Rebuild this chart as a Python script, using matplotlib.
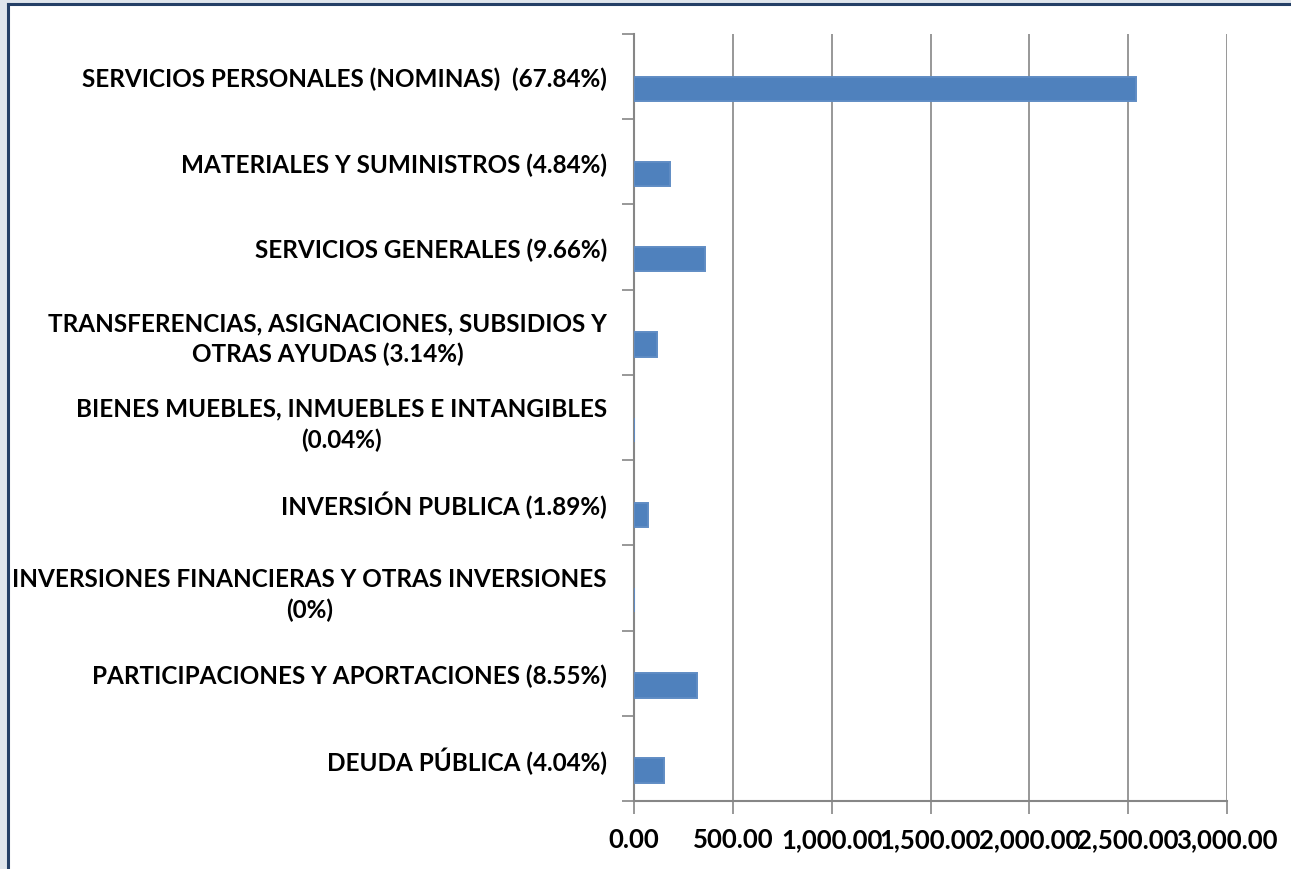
import matplotlib
matplotlib.use("Agg")
import matplotlib.pyplot as plt
from matplotlib.patches import Rectangle
from matplotlib.ticker import FuncFormatter

# capitulos del gasto (de arriba hacia abajo)
categorias = [
    "SERVICIOS PERSONALES (NOMINAS)  (67.84%)",
    "MATERIALES Y SUMINISTROS (4.84%)",
    "SERVICIOS GENERALES (9.66%)",
    "TRANSFERENCIAS, ASIGNACIONES, SUBSIDIOS Y\nOTRAS AYUDAS (3.14%)",
    "BIENES MUEBLES, INMUEBLES E INTANGIBLES\n(0.04%)",
    "INVERSIÓN PUBLICA (1.89%)",
    "INVERSIONES FINANCIERAS Y OTRAS INVERSIONES\n(0%)",
    "PARTICIPACIONES Y APORTACIONES (8.55%)",
    "DEUDA PÚBLICA (4.04%)",
]
montos = [2538.0, 181.0, 361.0, 117.0, 1.5, 70.0, 0.1, 320.0, 151.0]
ticks_x = [0, 500, 1000, 1500, 2000, 2500, 3000]

AZUL = "#4f81bd"
GRIS = "#868686"

plt.rcParams["font.family"] = ["Lato", "DejaVu Sans"]

W, H = 1291, 870
fig = plt.figure(figsize=(W / 100, H / 100), dpi=100, facecolor="#dfe5ec")

# marco blanco tipo captura
fig.patches.append(Rectangle((9 / W, 0), 1, 1 - 6 / H, transform=fig.transFigure,
                             facecolor="white", edgecolor="none", zorder=-10))
fig.lines.append(plt.Line2D([7.5 / W, 7.5 / W], [0, 1 - 4.5 / H], transform=fig.transFigure,
                            color="#243f66", lw=2.2, zorder=-5))
fig.lines.append(plt.Line2D([7.5 / W, 1], [1 - 4.5 / H, 1 - 4.5 / H], transform=fig.transFigure,
                            color="#243f66", lw=2.2, zorder=-5))

ax = fig.add_axes([634 / W, 1 - 802 / H, (1227 - 634) / W, (802 - 35) / H])
ax.set_facecolor("none")

n = len(categorias)
pos = list(range(n))
alto = 1 / 3.5
# barra desplazada hacia abajo (serie vacia arriba, como en Excel)
ax.barh([p + alto / 2 for p in pos], montos, height=alto, color=AZUL,
        edgecolor="#5f8cc4", linewidth=1.4, zorder=3)

ax.set_xlim(0, 3000)
ax.set_ylim(n - 0.5, -0.5)
ax.set_xticks(ticks_x)
ax.xaxis.set_major_formatter(FuncFormatter(lambda v, p: f"{v:,.2f}"))
ax.grid(axis="x", color=GRIS, lw=1.2, zorder=0)

# ticks en los limites de categoria, etiquetas al centro
ax.set_yticks([p - 0.5 for p in range(n + 1)])
ax.set_yticklabels([])
ax.set_yticks(pos, minor=True)
ax.set_yticklabels(categorias, minor=True, fontsize=17.5, fontweight="bold",
                   multialignment="center")
for lab in ax.get_yticklabels(minor=True):
    lab.set_linespacing(1.4)
ax.tick_params(axis="y", which="major", length=9, width=1.2, color=GRIS, direction="out")
ax.tick_params(axis="y", which="minor", length=0, pad=19.5)
ax.tick_params(axis="x", length=9, width=1.2, color=GRIS, direction="out",
               labelsize=18.5, pad=10)
for lab in ax.get_xticklabels():
    lab.set_fontweight("bold")

for s in ["top", "right"]:
    ax.spines[s].set_visible(False)
for s in ["left", "bottom"]:
    ax.spines[s].set_color(GRIS)
    ax.spines[s].set_linewidth(1.5)

fig.savefig("out.png", dpi=100, facecolor=fig.get_facecolor())
